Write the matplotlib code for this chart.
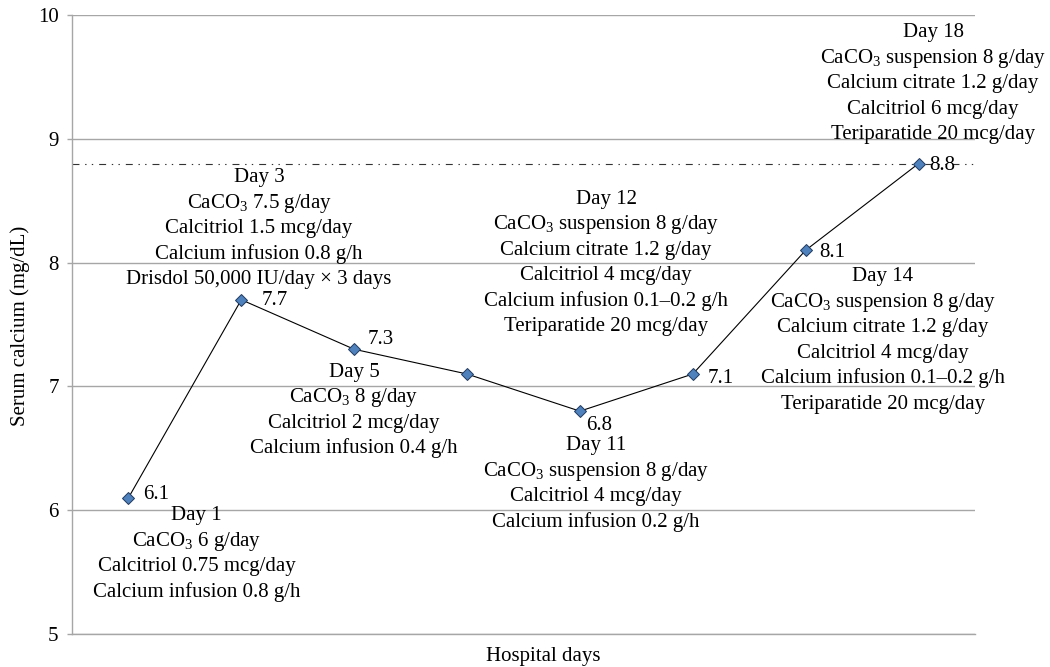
import matplotlib
matplotlib.use("Agg")
import matplotlib.pyplot as plt

plt.rcParams['font.family'] = ['Liberation Serif', 'DejaVu Serif']
plt.rcParams['mathtext.fontset'] = 'custom'
plt.rcParams['mathtext.rm'] = 'Liberation Serif'
plt.rcParams['mathtext.it'] = 'Liberation Serif:italic'
plt.rcParams['lines.scale_dashes'] = False

# ---------------- data ----------------
categories = [1, 2, 3, 4, 5, 6, 7, 8]
serum_calcium = [6.1, 7.7, 7.3, 7.1, 6.8, 7.1, 8.1, 8.8]
value_labels = ["6.1", "7.7", "7.3", "", "6.8", "7.1", "8.1", "8.8"]
target_level = 8.8
y_ticks = [5, 6, 7, 8, 9, 10]

note_day1 = ["Day 1", "CaCO$_3$ 6 g/day", "Calcitriol 0.75 mcg/day",
             "Calcium infusion 0.8 g/h"]
note_day3 = ["Day 3", "CaCO$_3$ 7.5 g/day", "Calcitriol 1.5 mcg/day",
             "Calcium infusion 0.8 g/h", "Drisdol 50,000 IU/day \u00d7 3 days"]
note_day5 = ["Day 5", "CaCO$_3$ 8 g/day", "Calcitriol 2 mcg/day",
             "Calcium infusion 0.4 g/h"]
note_day11 = ["Day 11", "CaCO$_3$ suspension 8 g/day", "Calcitriol 4 mcg/day",
              "Calcium infusion 0.2 g/h"]
note_day12 = ["Day 12", "CaCO$_3$ suspension 8 g/day", "Calcium citrate 1.2 g/day",
              "Calcitriol 4 mcg/day", "Calcium infusion 0.1\u20130.2 g/h",
              "Teriparatide 20 mcg/day"]
note_day14 = ["Day 14", "CaCO$_3$ suspension 8 g/day", "Calcium citrate 1.2 g/day",
              "Calcitriol 4 mcg/day", "Calcium infusion 0.1\u20130.2 g/h",
              "Teriparatide 20 mcg/day"]
note_day18 = ["Day 18", "CaCO$_3$ suspension 8 g/day", "Calcium citrate 1.2 g/day",
              "Calcitriol 6 mcg/day", "Teriparatide 20 mcg/day"]

# ---------------- layout (positions / styles) ----------------
notes = [note_day1, note_day3, note_day5, note_day11, note_day12, note_day14, note_day18]
note_anchor = [(1.603, 5.666), (2.157, 8.292), (2.998, 6.826), (5.142, 6.232),
               (5.231, 8.017), (7.685, 7.391), (8.128, 9.463)]
label_offset_px = [(15, 6), (20, 2), (13, 12), (0, 0), (6, -12), (15, -2), (14, 0), (11, 0)]

FS = 15
line_pt = 25.5 * 0.72
cap_half = 0.331 * FS

fig = plt.figure(figsize=(10.5, 6.67), dpi=100)
ax = fig.add_axes([72 / 1050, 1 - 634 / 667, 903 / 1050, 619 / 667])

ax.set_xlim(0.5, 8.5)
ax.set_ylim(5, 10)
ax.set_yticks(y_ticks)
ax.set_xticks([])
ax.grid(axis='y', color='#a6a6a6', linewidth=1.0)
ax.set_axisbelow(True)
for s in ['top', 'right']:
    ax.spines[s].set_visible(False)
for s in ['left', 'bottom']:
    ax.spines[s].set_color('#a6a6a6')
    ax.spines[s].set_linewidth(1.0)
ax.tick_params(axis='y', length=3.6, width=1.0, color='#a6a6a6', labelsize=FS, pad=6)

# target dash-dot-dot line
ax.axhline(target_level, color='#333333', linewidth=0.8,
           linestyle=(0, (5, 4.1, 1, 3.8, 1, 4.3)), zorder=1.5)

ax.plot(categories, serum_calcium, color='black', linewidth=0.8,
        marker='D', markersize=6.4, markerfacecolor='#4f81bd',
        markeredgecolor='#1f3a60', markeredgewidth=0.7, zorder=3)

for x, y, lab, (dx, dy) in zip(categories, serum_calcium, value_labels, label_offset_px):
    if lab:
        ax.annotate(lab, (x, y), xytext=(dx * 0.72, dy * 0.72 - cap_half),
                    textcoords='offset points', ha='left', va='baseline',
                    fontsize=FS, zorder=4)

for lines, (ax_x, ax_y) in zip(notes, note_anchor):
    n = len(lines)
    for i, t in enumerate(lines):
        off = -(i - (n - 1) / 2) * line_pt - cap_half
        ax.annotate(t, (ax_x, ax_y), xytext=(0, off), textcoords='offset points',
                    ha='center', va='baseline', fontsize=FS, annotation_clip=False)

ax.set_ylabel("Serum calcium (mg/dL)", fontsize=FS)
ax.yaxis.set_label_coords(-0.047, 0.497)
ax.set_xlabel("Hospital days", fontsize=FS)
ax.xaxis.set_label_coords(0.5216, -0.021)

fig.savefig("out.png", dpi=100)
